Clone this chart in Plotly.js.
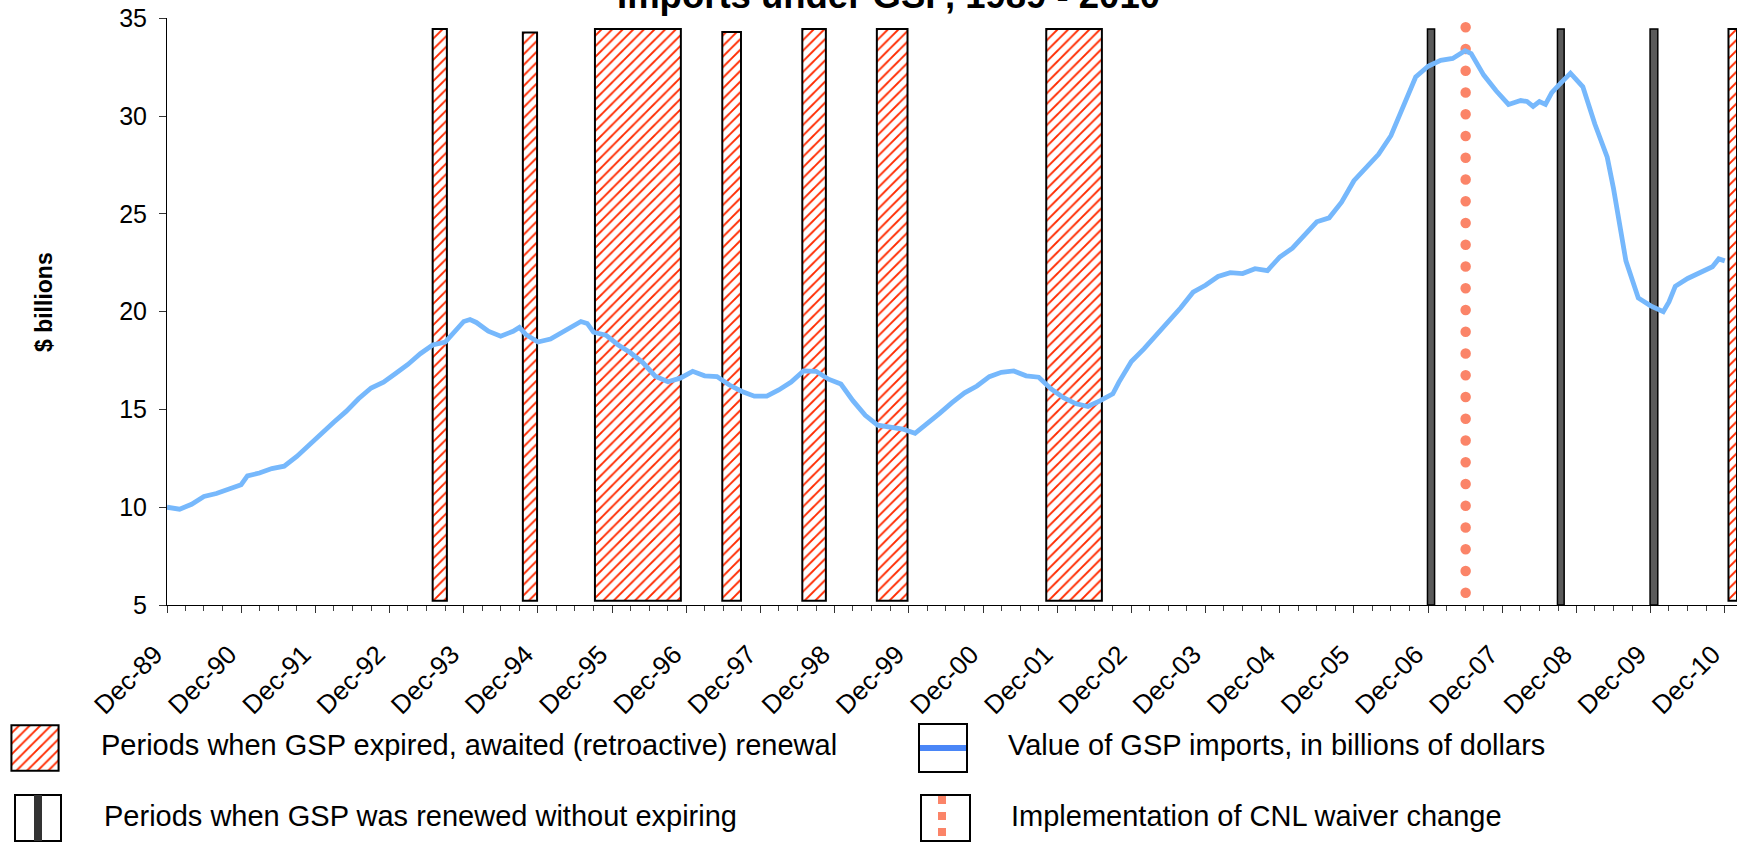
<!DOCTYPE html>
<html><head><meta charset="utf-8">
<script src="https://cdn.plot.ly/plotly-3.0.1.min.js"></script>
<style>html,body{margin:0;padding:0;background:#fff;}#chart{width:1741px;height:842px;}</style>
</head><body><div id="chart"></div>
<script>
// ---- data ----
const months = ['1989-12','1990-02','1990-04','1990-06','1990-08','1990-10','1990-12','1991-01','1991-03','1991-05','1991-07','1991-09','1991-11',
'1992-01','1992-03','1992-05','1992-07','1992-09','1992-11','1993-01','1993-03','1993-05','1993-07','1993-09','1993-11','1993-12',
'1994-01','1994-02','1994-04','1994-06','1994-08','1994-09','1994-10','1994-12','1995-02','1995-04','1995-06','1995-07','1995-08','1995-09','1995-11',
'1996-01','1996-03','1996-05','1996-07','1996-09','1996-11','1997-01','1997-03','1997-05','1997-07','1997-09','1997-11',
'1998-01','1998-03','1998-05','1998-07','1998-09','1998-11','1999-01','1999-03','1999-05','1999-07','1999-09','1999-11',
'2000-01','2000-03','2000-05','2000-07','2000-09','2000-11','2001-01','2001-03','2001-05','2001-07','2001-09','2001-11',
'2002-01','2002-03','2002-05','2002-07','2002-09','2002-10','2002-12','2003-02','2003-04','2003-06','2003-08','2003-10','2003-12',
'2004-02','2004-04','2004-06','2004-08','2004-10','2004-12','2005-02','2005-04','2005-06','2005-08','2005-10','2005-12',
'2006-02','2006-04','2006-06','2006-08','2006-10','2006-12','2007-02','2007-04','2007-06','2007-07','2007-09','2007-11',
'2008-01','2008-03','2008-04','2008-05','2008-06','2008-07','2008-08','2008-09','2008-11','2009-01','2009-03','2009-05','2009-06',
'2009-08','2009-09','2009-10','2009-12','2010-02','2010-03','2010-04','2010-06','2010-08','2010-10','2010-11','2010-12'];
const gspImports = [10.0,9.9,10.15,10.55,10.7,10.9,11.15,11.6,11.75,11.98,12.1,12.6,13.2,
13.8,14.35,14.9,15.55,16.1,16.4,16.85,17.3,17.85,18.3,18.45,19.1,19.5,
19.6,19.45,19.0,18.75,19.0,19.2,18.85,18.45,18.6,18.95,19.3,19.5,19.4,18.95,18.8,
18.3,17.9,17.4,16.7,16.42,16.6,16.95,16.72,16.68,16.25,15.92,15.68,
15.68,16.0,16.4,16.97,16.95,16.55,16.3,15.45,14.7,14.2,14.1,14.0,
13.78,14.25,14.8,15.35,15.85,16.2,16.68,16.9,16.97,16.72,16.65,16.05,
15.6,15.3,15.15,15.45,15.8,16.4,17.45,18.1,18.8,19.45,20.2,21.0,21.35,
21.8,22.0,21.95,22.2,22.1,22.8,23.25,23.95,24.6,24.8,25.6,26.7,
27.35,28.05,29.0,30.5,32.0,32.55,32.85,32.95,33.35,33.2,32.1,31.3,
30.6,30.8,30.75,30.5,30.75,30.6,31.2,31.55,32.2,31.5,29.6,27.9,26.3,
22.6,21.6,20.7,20.3,20.0,20.5,21.3,21.7,22.0,22.3,22.7,22.6];

const expiredStart = ['1993-07-01','1994-09-18','1995-09-08','1997-05-27','1998-06-25','1999-06-27','2001-10-08','2010-12-19'];
const expiredEnd   = ['1993-09-09','1994-11-27','1996-11-04','1997-08-27','1998-10-19','1999-11-25','2002-07-09','2011-01-30'];
const expiredTop   = [34.46,34.28,34.46,34.3,34.46,34.46,34.46,34.46];
const expiredBase  = 5.22;

const renewedStart = ['2006-11-28','2008-08-29','2009-11-28'];
const renewedEnd   = ['2007-01-02','2008-10-01','2010-01-05'];
const renewedTop   = [34.46,34.46,34.46];
const renewedBase  = 5.0;

const cnlDate = '2007-06-04';
const cnlSpan = [34.55, 5.6];

const xRange = ['1989-12-01','2011-01-30'];
const yRange = [5, 35];
const legendLabels = [
  'Periods when GSP expired, awaited (retroactive) renewal',
  'Periods when GSP was renewed without expiring',
  'Value of GSP imports, in billions of dollars',
  'Implementation of CNL waiver change'
];
const titleText = 'Imports under GSP, 1989 - 2010';
const yTitle = '$ billions';

// ---- helpers ----
const W = 1741, H = 842;
const FONT = 'Liberation Sans, Arial, sans-serif';
const px = x => x / W;
const py = y => 1 - y / H;
const ms = d => Date.parse(d + 'T00:00:00Z');
const centers = (s, e) => s.map((d, i) => (ms(d) + ms(e[i])) / 2);
const widths = (s, e) => s.map((d, i) => ms(e[i]) - ms(d));

const LINE_BLUE = '#76b8fc';
const SALMON = '#fb8468';
const HATCH = {shape: '/', fgcolor: '#ff2a00', bgcolor: '#ffffff', size: 7.5, solidity: 0.25};

const traces = [
  {type: 'bar', x: centers(expiredStart, expiredEnd), width: widths(expiredStart, expiredEnd),
   y: expiredTop.map(t => t - expiredBase), base: expiredBase,
   marker: {color: '#ffffff', pattern: HATCH, line: {color: '#000', width: 2}},
   hoverinfo: 'skip', xaxis: 'x', yaxis: 'y'},
  {type: 'bar', x: centers(renewedStart, renewedEnd), width: widths(renewedStart, renewedEnd),
   y: renewedTop.map(t => t - renewedBase), base: renewedBase,
   marker: {color: '#5a5a5a', line: {color: '#000', width: 1.5}},
   hoverinfo: 'skip', xaxis: 'x', yaxis: 'y'},
  {type: 'scatter', mode: 'lines', x: [cnlDate, cnlDate], y: cnlSpan,
   line: {color: SALMON, width: 10.5, dash: '0px,21.75px'}, hoverinfo: 'skip', xaxis: 'x', yaxis: 'y'},
  {type: 'scatter', mode: 'lines', x: months.map(m => m + '-01'), y: gspImports,
   line: {color: LINE_BLUE, width: 4.8}, xaxis: 'x', yaxis: 'y'},
  // legend swatch for hatched periods
  {type: 'bar', x: [0.5], y: [1], width: [1], xaxis: 'x3', yaxis: 'y3',
   marker: {color: '#ffffff', pattern: HATCH, line: {color: '#000', width: 2}}, hoverinfo: 'skip'}
];

const tickFont = {family: FONT, size: 25, color: '#000'};
const xTickFont = {family: FONT, size: 26, color: '#000'};
const xDomain = [px(167), px(1737)];
const yDomain = [py(605), py(18.4)];

const shapes = [
  // renewed legend box
  {type: 'rect', xref: 'paper', yref: 'paper', x0: px(15), x1: px(61), y0: py(841), y1: py(795), line: {color: '#000', width: 2}, fillcolor: '#fff'},
  {type: 'rect', xref: 'paper', yref: 'paper', x0: px(34), x1: px(42), y0: py(841), y1: py(795), line: {width: 0}, fillcolor: '#333'},
  // line legend box
  {type: 'rect', xref: 'paper', yref: 'paper', x0: px(919), x1: px(967), y0: py(772), y1: py(724), line: {color: '#000', width: 2}, fillcolor: '#fff'},
  {type: 'line', xref: 'paper', yref: 'paper', x0: px(920), x1: px(966), y0: py(748), y1: py(748), line: {color: '#4a86f7', width: 6}},
  // cnl legend box
  {type: 'rect', xref: 'paper', yref: 'paper', x0: px(921), x1: px(970), y0: py(841), y1: py(795), line: {color: '#000', width: 2}, fillcolor: '#fff'},
  {type: 'line', xref: 'paper', yref: 'paper', x0: px(942), x1: px(942), y0: py(796), y1: py(840), line: {color: SALMON, width: 8, dash: '8px,8px'}}
];

const LEG = 29;
const annotations = [
  {text: '<b>' + titleText + '</b>', xref: 'paper', yref: 'paper', x: px(889), y: py(-5), xanchor: 'center', yanchor: 'middle', showarrow: false, font: {family: FONT, size: 36.5, color: '#000'}},
  {text: '<b>' + yTitle + '</b>', xref: 'paper', yref: 'paper', x: px(44), y: py(302), textangle: -90, xanchor: 'center', yanchor: 'middle', showarrow: false, font: {family: FONT, size: 23, color: '#000'}},
  {text: legendLabels[0], xref: 'paper', yref: 'paper', x: px(99), y: py(745), xanchor: 'left', yanchor: 'middle', showarrow: false, font: {family: FONT, size: LEG, color: '#000'}},
  {text: legendLabels[1], xref: 'paper', yref: 'paper', x: px(102), y: py(816), xanchor: 'left', yanchor: 'middle', showarrow: false, font: {family: FONT, size: LEG, color: '#000'}},
  {text: legendLabels[2], xref: 'paper', yref: 'paper', x: px(1006), y: py(745), xanchor: 'left', yanchor: 'middle', showarrow: false, font: {family: FONT, size: LEG, color: '#000'}},
  {text: legendLabels[3], xref: 'paper', yref: 'paper', x: px(1009), y: py(816), xanchor: 'left', yanchor: 'middle', showarrow: false, font: {family: FONT, size: LEG, color: '#000'}}
];

const layout = {
  width: W, height: H, margin: {l: 0, r: 0, t: 0, b: 0},
  paper_bgcolor: '#fff', plot_bgcolor: 'rgba(0,0,0,0)',
  showlegend: false, barmode: 'overlay',
  font: {family: FONT, color: '#000'},
  xaxis: {type: 'date', domain: xDomain, range: xRange, anchor: 'y',
    tick0: '1989-12-01', dtick: 'M12', tickformat: '%b-%y', tickangle: -45,
    ticks: 'outside', ticklen: 7, tickwidth: 1, tickcolor: '#333',
    minor: {dtick: 'M3', tick0: '1989-12-01', ticks: 'outside', ticklen: 5, tickcolor: '#444', tickwidth: 1, showgrid: false},
    showline: true, linecolor: '#000', linewidth: 1, showgrid: false, zeroline: false,
    tickfont: xTickFont, ticklabelstandoff: 16, ticklabelshift: -12, fixedrange: true},
  xaxis2: {type: 'date', domain: xDomain, range: xRange, overlaying: 'x', anchor: 'y', side: 'bottom',
    tick0: '1989-12-01', dtick: 'M12', ticks: 'inside', ticklen: 8, tickcolor: '#333', tickwidth: 1,
    showticklabels: false, showline: false, showgrid: false, zeroline: false},
  yaxis: {domain: yDomain, range: yRange, anchor: 'x', dtick: 5, tick0: 5,
    ticks: 'outside', ticklen: 7, tickwidth: 1, tickcolor: '#333',
    showline: true, linecolor: '#000', linewidth: 1, showgrid: false, zeroline: false,
    tickfont: tickFont, ticklabelstandoff: 7, fixedrange: true},
  xaxis3: {domain: [px(10), px(60)], range: [-0.03, 1.03], anchor: 'y3', visible: false, fixedrange: true},
  yaxis3: {domain: [py(772), py(724)], range: [-0.03, 1.03], anchor: 'x3', visible: false, fixedrange: true},
  shapes: shapes,
  annotations: annotations
};

Plotly.newPlot('chart', traces, layout, {displayModeBar: false, staticPlot: true}).then(gd => {
  gd.querySelectorAll('.scatterlayer path.js-line').forEach(p => {
    const s = p.style.stroke || '';
    if (s.indexOf('251, 132, 104') >= 0 || s.toLowerCase() === SALMON) p.style.strokeLinecap = 'round';
  });
});
</script>
</body></html>
